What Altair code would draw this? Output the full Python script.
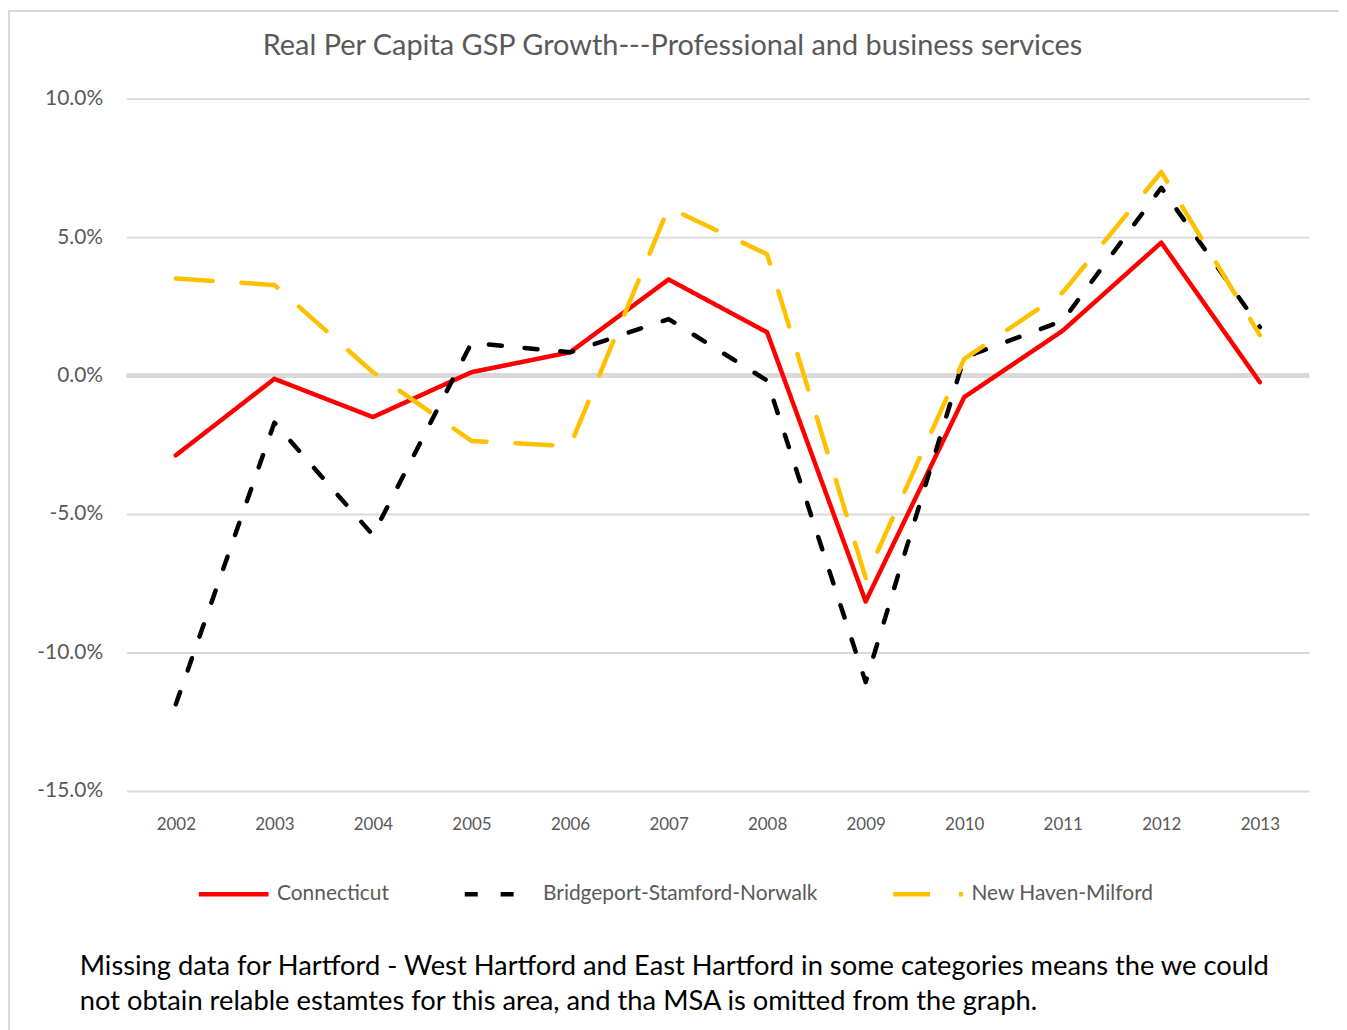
import altair as alt
import pandas as pd

years = ["2002", "2003", "2004", "2005", "2006", "2007", "2008", "2009", "2010", "2011", "2012", "2013"]
connecticut = [-2.88, -0.12, -1.50, 0.12, 0.84, 3.47, 1.56, -8.16, -0.78, 1.62, 4.80, -0.24]
bridgeport = [-11.87, -1.70, -5.76, 1.18, 0.84, 2.04, -0.18, -11.07, 0.65, 1.98, 6.78, 1.75]
new_haven = [3.50, 3.27, 0.12, -2.36, -2.55, 6.06, 4.38, -7.31, 0.60, 3.00, 7.35, 1.46]

series_names = ["Connecticut", "Bridgeport-Stamford-Norwalk", "New Haven-Milford"]
series_colors = ["#ff0000", "#000000", "#ffc000"]
series_dashes = [[1, 0], [13, 23], [37, 29]]
y_ticks = [-15, -10, -5, 0, 5, 10]

title_text = "Real Per Capita GSP Growth---Professional and business services"
note_text = ("Missing data for Hartford - West Hartford and East Hartford in some categories means the we could\n"
             "not obtain relable estamtes for this area, and tha MSA is omitted from the graph.")

rows = []
for name, vals in zip(series_names, [connecticut, bridgeport, new_haven]):
    for i, (yr, v) in enumerate(zip(years, vals)):
        rows.append({"Year": yr, "Value": v, "Series": name, "order": i})
df = pd.DataFrame(rows)

FONT = "Lato"
GRAY = "#595959"

y_scale = alt.Scale(domain=[-15, 10], nice=False, zero=False)
y_axis = alt.Axis(title=None, values=y_ticks,
                  labelExpr="(datum.value < 0 ? '-' : '') + format(abs(datum.value), '.1f') + '%'",
                  labelFontSize=21, labelColor=GRAY, labelFont=FONT, ticks=False,
                  domain=False, grid=True, gridColor="#d9d9d9", gridWidth=1.8,
                  labelPadding=24)

x_enc = alt.X("Year:O", sort=years, scale=alt.Scale(type="point", padding=0.5),
              axis=alt.Axis(title=None, labelAngle=0, labelFontSize=17, labelColor=GRAY,
                            labelFont=FONT, ticks=False, domain=False, grid=False, labelPadding=26))

zero_rule = alt.Chart(pd.DataFrame({"Value": [0]})).mark_rule(color="#d9d9d9", strokeWidth=5).encode(
    y=alt.Y("Value:Q", scale=y_scale, axis=y_axis)
)

lines = alt.Chart(df).mark_line(strokeWidth=4.5, strokeCap="round", strokeJoin="round").encode(
    x=x_enc,
    y=alt.Y("Value:Q", scale=y_scale, axis=y_axis),
    color=alt.Color("Series:N", sort=series_names,
                    scale=alt.Scale(domain=series_names, range=series_colors),
                    legend=alt.Legend(title=None, orient="none", direction="horizontal",
                                      legendX=70, legendY=761, symbolType="stroke",
                                      symbolSize=4900, symbolStrokeWidth=4.5,
                                      labelFontSize=21, labelColor=GRAY, labelFont=FONT,
                                      labelLimit=500, columnPadding=66, labelOffset=6, columns=3)),
    strokeDash=alt.StrokeDash("Series:N", sort=series_names,
                              scale=alt.Scale(domain=series_names, range=series_dashes),
                              legend=None),
    order="order:Q",
)

border = alt.Chart(pd.DataFrame({"a": [0]})).mark_rect(fill=None, stroke="#d9d9d9", strokeWidth=2).encode(
    x=alt.value(-118), x2=alt.value(1220), y=alt.value(-88), y2=alt.value(960)
)

title = alt.Chart(pd.DataFrame({"a": [0]})).mark_text(
    align="center", baseline="middle", fontSize=29, font=FONT, color=GRAY
).encode(x=alt.value(548), y=alt.value(-53), text=alt.value(title_text))

note = alt.Chart(pd.DataFrame({"a": [0]})).mark_text(
    align="left", baseline="middle", fontSize=27.4, font=FONT, color="#000000",
    lineBreak="\n", lineHeight=35
).encode(x=alt.value(-47), y=alt.value(872), text=alt.value(note_text))

chart = alt.layer(border, zero_rule, lines, title, note).properties(
    width=1187, height=695,
    padding={"left": 119, "top": 89, "right": 30, "bottom": 240},
    autosize=alt.AutoSizeParams(type="none"),
).configure_view(stroke=None)

chart.save("out.html", embed_options={"renderer": "svg", "actions": False})
